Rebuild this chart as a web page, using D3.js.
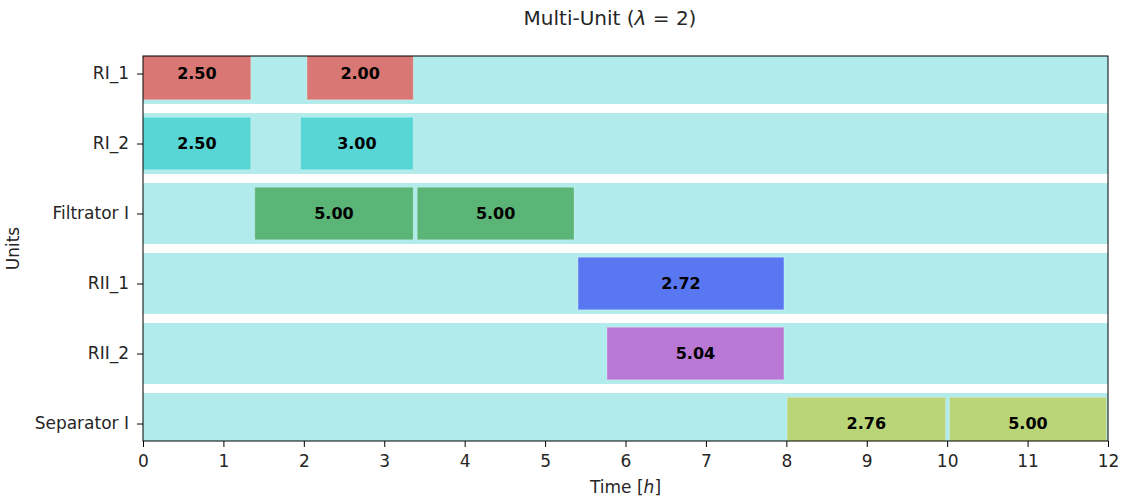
<!DOCTYPE html>
<html>
<head>
<meta charset="utf-8">
<script src="https://cdn.jsdelivr.net/npm/d3@7"></script>
<style>
  body { margin: 0; background: #fff; }
  text { font-family: "DejaVu Sans", sans-serif; }
</style>
</head>
<body>
<div id="chart"></div>
<script>
// units shown top to bottom
const units = ['RI_1', 'RI_2', 'Filtrator I', 'RII_1', 'RII_2', 'Separator I'];
const unitColors = ['#d87773', '#58d5d5', '#5bb577', '#5a77f2', '#b978d3', '#bad577'];

// scheduled tasks
const taskUnit  = ['RI_1', 'RI_1', 'RI_2', 'RI_2', 'Filtrator I', 'Filtrator I', 'RII_1', 'RII_2', 'Separator I', 'Separator I'];
const taskStart = [0.00, 2.04, 0.00, 1.96, 1.39, 3.41, 5.41, 5.77, 8.01, 10.03];
const taskEnd   = [1.34, 3.36, 1.34, 3.36, 3.36, 5.36, 7.97, 7.97, 9.98, 11.98];
const taskLabel = ['2.50', '2.00', '2.50', '3.00', '5.00', '5.00', '2.72', '5.04', '2.76', '5.00'];

const xTicks = d3.range(0, 13);

const margin = { top: 56, right: 13, bottom: 59, left: 143 };
const width = 1121 - margin.left - margin.right;
const height = 500 - margin.top - margin.bottom;

const svg = d3.select('#chart').append('svg')
  .attr('width', 1121)
  .attr('height', 500);

const g = svg.append('g')
  .attr('transform', `translate(${margin.left},${margin.top})`);

const x = d3.scaleLinear().domain([0, 12]).range([0, width]);
const y = d3.scaleLinear().domain([-0.25, units.length - 0.75]).range([0, height]);

svg.append('defs').append('clipPath').attr('id', 'clip')
  .append('rect').attr('width', width).attr('height', height);

const plot = g.append('g').attr('clip-path', 'url(#clip)');

// background bands for each unit
plot.selectAll('rect.band')
  .data(units)
  .enter().append('rect')
  .attr('class', 'band')
  .attr('x', x(0))
  .attr('width', x(12) - x(0))
  .attr('y', (d, i) => y(i - 0.435))
  .attr('height', y(0.87) - y(0))
  .style('fill', '#b2ebeb');

const tasks = taskUnit.map((u, i) => ({ unit: u, start: taskStart[i], end: taskEnd[i], label: taskLabel[i] }));

plot.selectAll('rect.task')
  .data(tasks)
  .enter().append('rect')
  .attr('class', 'task')
  .attr('x', d => x(d.start))
  .attr('width', d => x(d.end) - x(d.start))
  .attr('y', d => y(units.indexOf(d.unit) - 0.375))
  .attr('height', y(0.75) - y(0))
  .style('fill', d => unitColors[units.indexOf(d.unit)])
  .style('stroke', '#ffffff')
  .style('stroke-opacity', 0.25)
  .style('stroke-width', 1);

plot.selectAll('text.task')
  .data(tasks)
  .enter().append('text')
  .attr('class', 'task')
  .attr('x', d => x((d.start + d.end) / 2))
  .attr('y', d => y(units.indexOf(d.unit)))
  .attr('dy', '0.35em')
  .attr('text-anchor', 'middle')
  .style('font-size', '16px')
  .style('font-weight', 'bold')
  .style('fill', '#000')
  .text(d => d.label);

// axes
const xAxis = g.append('g')
  .attr('transform', `translate(0,${height})`)
  .call(d3.axisBottom(x).tickValues(xTicks).tickFormat(d3.format('d')).tickSizeOuter(0).tickSize(6).tickPadding(8));

const yAxis = g.append('g')
  .call(d3.axisLeft(y).tickValues(d3.range(units.length)).tickFormat(i => units[i]).tickSizeOuter(0).tickSize(6).tickPadding(8));

[xAxis, yAxis].forEach(a => {
  a.select('.domain').remove();
  a.selectAll('text').style('font-size', '17px').style('fill', '#262626').style('font-family', '"DejaVu Sans", sans-serif');
  a.selectAll('line').style('stroke', '#000');
});
xAxis.selectAll('text').attr('dy', '0.7em');

// frame
g.append('rect')
  .attr('width', width)
  .attr('height', height)
  .style('fill', 'none')
  .style('stroke', '#000')
  .style('stroke-width', 1);

// labels
const xl = svg.append('text')
  .attr('x', margin.left + width / 2)
  .attr('y', 493)
  .attr('text-anchor', 'middle')
  .style('font-size', '17px')
  .style('fill', '#262626');
xl.append('tspan').text('Time [');
xl.append('tspan').style('font-style', 'italic').text('h');
xl.append('tspan').text(']');

svg.append('text')
  .attr('transform', `translate(19,${margin.top + height / 2}) rotate(-90)`)
  .attr('text-anchor', 'middle')
  .style('font-size', '17px')
  .style('fill', '#262626')
  .text('Units');

const title = svg.append('text')
  .attr('x', 610)
  .attr('y', 25)
  .attr('text-anchor', 'middle')
  .style('font-size', '20px')
  .style('fill', '#262626');
title.append('tspan').text('Multi-Unit (');
title.append('tspan').style('font-style', 'italic').text('λ');
title.append('tspan').text(' = 2)');
</script>
</body>
</html>
